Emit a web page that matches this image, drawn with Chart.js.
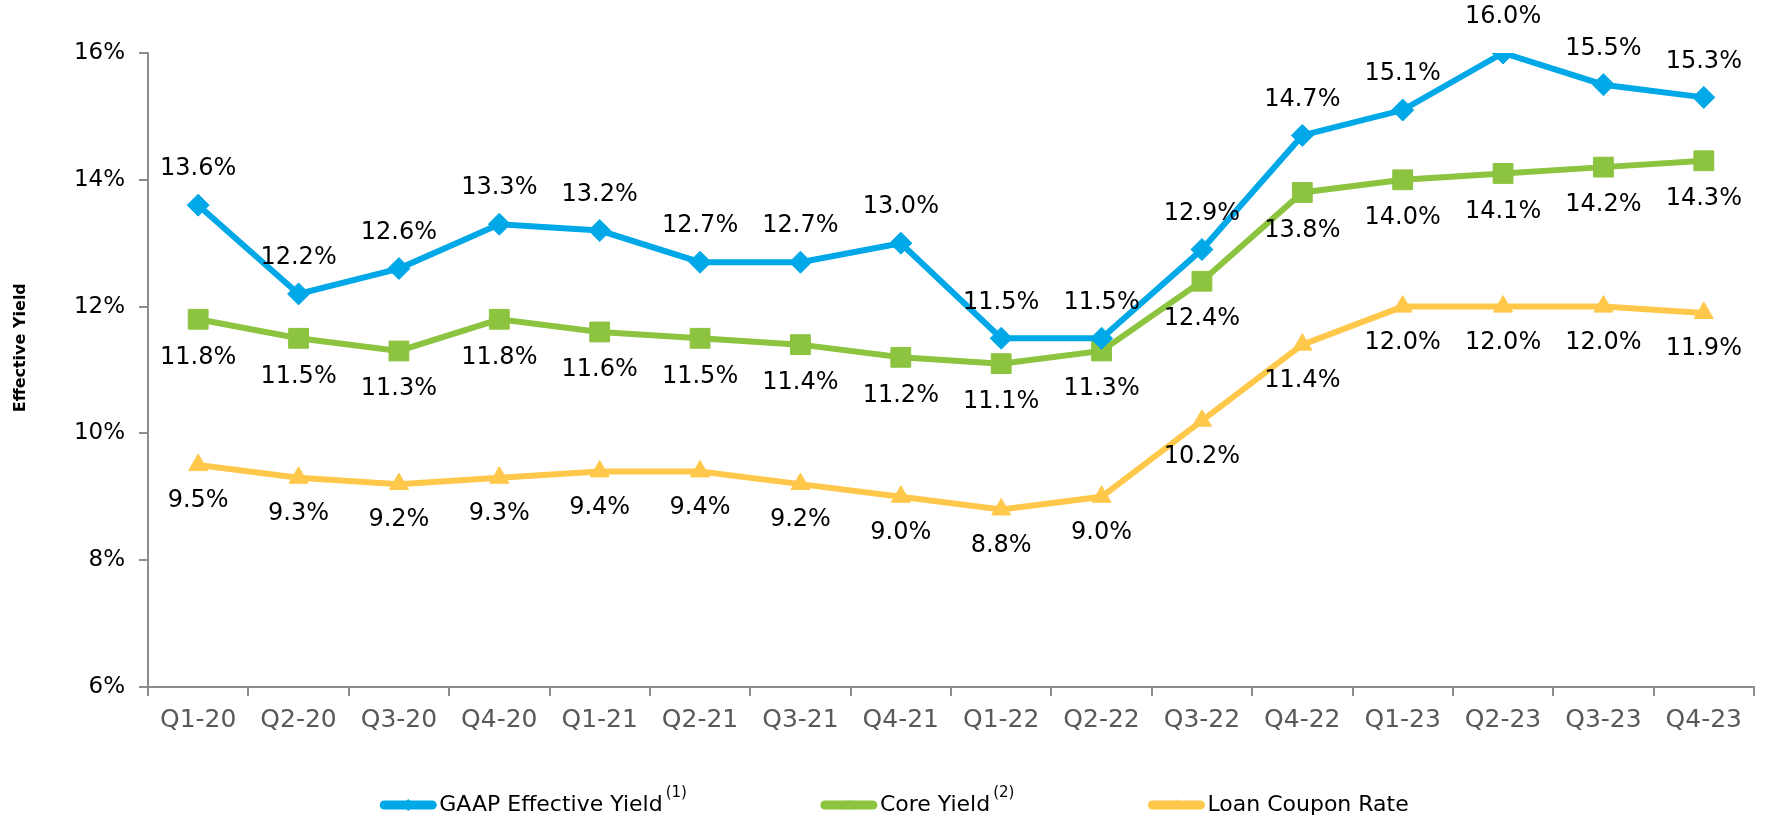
<!DOCTYPE html>
<html>
<head>
<meta charset="utf-8">
<script src="https://cdn.jsdelivr.net/npm/chart.js@4.4.1/dist/chart.umd.min.js"></script>
<style>
  html, body { margin: 0; padding: 0; background: #ffffff; }
  #wrap { width: 1769px; height: 817px; position: relative; }
</style>
</head>
<body>
<div id="wrap"><canvas id="c" width="1769" height="817"></canvas></div>
<script>
const categories = ['Q1-20','Q2-20','Q3-20','Q4-20','Q1-21','Q2-21','Q3-21','Q4-21','Q1-22','Q2-22','Q3-22','Q4-22','Q1-23','Q2-23','Q3-23','Q4-23'];
const gaapYield = [13.6,12.2,12.6,13.3,13.2,12.7,12.7,13.0,11.5,11.5,12.9,14.7,15.1,16.0,15.5,15.3];
const coreYield = [11.8,11.5,11.3,11.8,11.6,11.5,11.4,11.2,11.1,11.3,12.4,13.8,14.0,14.1,14.2,14.3];
const loanCoupon = [9.5,9.3,9.2,9.3,9.4,9.4,9.2,9.0,8.8,9.0,10.2,11.4,12.0,12.0,12.0,11.9];
const seriesNames = ['GAAP Effective Yield', 'Core Yield', 'Loan Coupon Rate'];
const seriesNotes = ['(1)', '(2)', ''];
const yMin = 6, yMax = 16, yStep = 2;
const yTitle = 'Effective Yield';

const FONT = '"DejaVu Sans", Verdana, sans-serif';
const BLUE = '#00A8E8', GREEN = '#8CC33F', YELLOW = '#FFC84A';

const valueLabels = {
  id: 'valueLabels',
  afterDatasetsDraw(chart) {
    const ctx = chart.ctx;
    ctx.save();
    ctx.font = '24px ' + FONT;
    ctx.fillStyle = '#000000';
    ctx.textAlign = 'center';
    ctx.textBaseline = 'middle';
    chart.data.datasets.forEach((ds, i) => {
      const meta = chart.getDatasetMeta(i);
      meta.data.forEach((pt, j) => {
        ctx.fillText(ds.data[j].toFixed(1) + '%', pt.x, pt.y + ds.labelOffset);
      });
    });
    ctx.restore();
  }
};

const customLegend = {
  id: 'customLegend',
  afterDraw(chart) {
    const ctx = chart.ctx;
    const ds = chart.data.datasets;
    const sampleW = 56, gapText = 3, gapItem = 134;
    const mainFont = '22px ' + FONT, supFont = '15px ' + FONT;
    ctx.save();
    const widths = ds.map((d) => {
      ctx.font = mainFont;
      let w = sampleW + gapText + ctx.measureText(d.label).width;
      if (d.note) { ctx.font = supFont; w += 3 + ctx.measureText(d.note).width; }
      return w;
    });
    const total = widths.reduce((a, b) => a + b, 0) + gapItem * (ds.length - 1);
    let x = chart.width / 2 + 10 - total / 2;
    const y = 805;
    ds.forEach((d, i) => {
      ctx.strokeStyle = d.borderColor;
      ctx.lineWidth = 9;
      ctx.lineCap = 'round';
      ctx.beginPath();
      ctx.moveTo(x + 4, y);
      ctx.lineTo(x + sampleW - 4, y);
      ctx.stroke();
      ctx.fillStyle = d.borderColor;
      Chart.helpers.drawPoint(ctx, {pointStyle: d.pointStyle, radius: 6, borderWidth: 0, rotation: 0}, x + sampleW / 2, y);
      ctx.fillStyle = '#000000';
      ctx.textAlign = 'left';
      ctx.textBaseline = 'middle';
      ctx.font = mainFont;
      const tx = x + sampleW + gapText;
      ctx.fillText(d.label, tx, y);
      const tw = ctx.measureText(d.label).width;
      if (d.note) {
        ctx.font = supFont;
        ctx.fillText(d.note, tx + tw + 3, y - 12);
      }
      x += widths[i] + gapItem;
    });
    ctx.restore();
  }
};

new Chart(document.getElementById('c'), {
  type: 'line',
  data: {
    labels: categories,
    datasets: [
      { label: seriesNames[0], note: seriesNotes[0], data: gaapYield, borderColor: BLUE, backgroundColor: BLUE,
        borderWidth: 6, pointStyle: 'rectRot', pointRadius: 11, pointBorderWidth: 1, pointBackgroundColor: BLUE, pointBorderColor: BLUE,
        labelOffset: -36, tension: 0, order: 0 },
      { label: seriesNames[1], note: seriesNotes[1], data: coreYield, borderColor: GREEN, backgroundColor: GREEN,
        borderWidth: 6, pointStyle: 'rect', pointRadius: 14, pointBorderWidth: 1, pointBackgroundColor: GREEN, pointBorderColor: GREEN,
        labelOffset: 38, tension: 0, order: 1 },
      { label: seriesNames[2], note: seriesNotes[2], data: loanCoupon, borderColor: YELLOW, backgroundColor: YELLOW,
        borderWidth: 6, pointStyle: 'triangle', pointRadius: 11, pointBorderWidth: 1, pointBackgroundColor: YELLOW, pointBorderColor: YELLOW,
        labelOffset: 36, tension: 0, order: 2 }
    ]
  },
  options: {
    responsive: false,
    animation: false,
    layout: { padding: { top: 53, right: 11, bottom: 0, left: 0 } },
    plugins: {
      legend: { display: false },
      tooltip: { enabled: false },
      title: { display: false }
    },
    scales: {
      x: {
        type: 'category',
        offset: true,
        border: { display: true, color: '#8C8C8C', width: 2 },
        grid: { display: true, offset: true, drawOnChartArea: false, drawTicks: true, tickLength: 9, color: '#8C8C8C', lineWidth: 2 },
        ticks: { color: '#595959', font: { family: FONT, size: 25 }, padding: 9, maxRotation: 0, autoSkip: false },
        afterFit(scale) { scale.height = 130; }
      },
      y: {
        min: yMin, max: yMax,
        border: { display: true, color: '#8C8C8C', width: 2 },
        grid: { display: true, drawOnChartArea: false, drawTicks: true, tickLength: 9, color: '#8C8C8C', lineWidth: 2 },
        ticks: { stepSize: yStep, color: '#000000', font: { family: FONT, size: 23 }, padding: 14,
                 callback: (v) => v + '%' },
        title: { display: true, text: '        ' + yTitle, color: '#000000', font: { family: FONT, size: 16, weight: 'bold' }, padding: { top: 11, bottom: 0 } },
        afterFit(scale) { scale.width = 148; }
      }
    }
  },
  plugins: [valueLabels, customLegend]
});
</script>
</body>
</html>
